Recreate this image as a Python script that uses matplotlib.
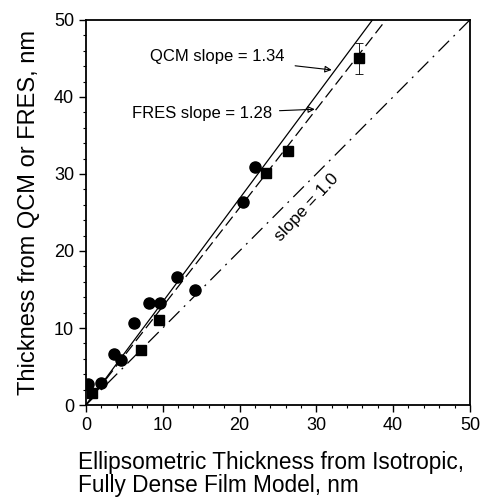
import numpy as np
import matplotlib
matplotlib.use("Agg")
from matplotlib import pyplot as plt
from matplotlib.ticker import MultipleLocator

plt.rcParams['font.family'] = ['Liberation Sans', 'DejaVu Sans']

# QCM data (circles)
qcm_x = [0.3, 1.9, 3.6, 4.6, 6.3, 8.2, 9.6, 11.8, 14.2, 20.4, 22.0]
qcm_y = [2.7, 2.8, 6.6, 5.8, 10.7, 13.3, 13.3, 16.6, 15.0, 26.3, 30.9]
# FRES data (squares)
fres_x = [0.8, 7.2, 9.5, 23.4, 26.3, 35.5]
fres_y = [1.5, 7.1, 11.0, 30.1, 33.0, 45.0]
fres_err = [0, 0, 0, 0, 0, 2.0]
# fitted slopes
qcm_slope = 1.34
fres_slope = 1.28
ref_slope = 1.0

fig = plt.figure(figsize=(4.8, 4.97), dpi=100)
ax = fig.add_axes([0.179, 0.185, 0.800, 0.775])

xx = np.array([0, 50])
ax.plot(xx, qcm_slope * xx, color='black', lw=0.9)
ax.plot(xx, fres_slope * xx, color='black', lw=0.9, dashes=(9, 4))
ax.plot(xx, ref_slope * xx, color='black', lw=0.9, dashes=(12, 5, 1.5, 5))

ax.plot(qcm_x, qcm_y, 'o', color='black', ms=8)
ax.errorbar(fres_x, fres_y, yerr=fres_err, fmt='s', color='black', ms=7,
            elinewidth=0.6, capsize=3, capthick=0.6)

# annotations
ax.annotate('QCM slope = 1.34', xy=(32.0, 43.5), xytext=(25.8, 45.2),
            ha='right', va='center', fontsize=12,
            arrowprops=dict(arrowstyle='-|>', color='black', lw=0.8,
                            shrinkA=6, shrinkB=0, mutation_scale=10, fill=False))
ax.annotate('FRES slope = 1.28', xy=(29.8, 38.4), xytext=(24.3, 37.8),
            ha='right', va='center', fontsize=12,
            arrowprops=dict(arrowstyle='-|>', color='black', lw=0.8,
                            shrinkA=3, shrinkB=0, mutation_scale=10, fill=False))
ax.text(28.8, 25.6, 'slope = 1.0', rotation=47, ha='center', va='center',
        fontsize=12.5, rotation_mode='anchor')

ax.set_xlim(0, 50)
ax.set_ylim(0, 50)
ax.xaxis.set_major_locator(MultipleLocator(10))
ax.yaxis.set_major_locator(MultipleLocator(10))
ax.xaxis.set_minor_locator(MultipleLocator(2))
ax.yaxis.set_minor_locator(MultipleLocator(2))
ax.tick_params(which='major', direction='out', length=5, width=1, labelsize=13)
ax.tick_params(which='minor', direction='out', length=2.5, width=0.8)
for s in ax.spines.values():
    s.set_linewidth(1.3)

ax.set_xlabel('Ellipsometric Thickness from Isotropic,\nFully Dense Film Model, nm',
              fontsize=16.3, ha='left', x=-0.02, linespacing=1.05, labelpad=12)
ax.set_ylabel('Thickness from QCM or FRES, nm', fontsize=17, labelpad=10)

fig.savefig('out.png', dpi=100)
